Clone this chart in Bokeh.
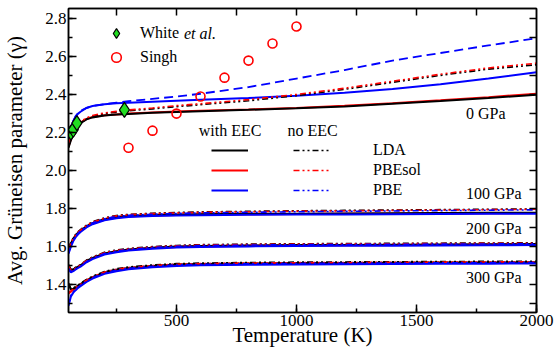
import numpy as np
from bokeh.plotting import figure
from bokeh.models import (Range1d, LinearAxis, SingleIntervalTicker, FixedTicker, Legend, LegendItem,
                          Label, NumeralTickFormatter)
from bokeh.embed import file_html
from bokeh.resources import INLINE

# ---------------- data ----------------
t_K = [50, 60, 70, 80, 90, 100, 125, 150, 200, 250, 300, 400, 500, 600, 800, 1000, 1200, 1400, 1600, 1800, 2000]

# 0 GPa
lda_eec_0 = [2.120, 2.160, 2.190, 2.215, 2.235, 2.250, 2.270, 2.280, 2.290, 2.295, 2.298, 2.304, 2.309, 2.313, 2.320, 2.328, 2.338, 2.352, 2.366, 2.382, 2.400]
pbesol_eec_0 = [2.125, 2.165, 2.195, 2.220, 2.238, 2.252, 2.272, 2.282, 2.291, 2.296, 2.300, 2.306, 2.311, 2.315, 2.322, 2.330, 2.341, 2.355, 2.370, 2.387, 2.405]
pbe_eec_0 = [2.190, 2.230, 2.260, 2.285, 2.300, 2.310, 2.330, 2.340, 2.350, 2.355, 2.358, 2.363, 2.368, 2.373, 2.382, 2.394, 2.410, 2.430, 2.455, 2.485, 2.518]
lda_no_0 = [2.140, 2.180, 2.205, 2.225, 2.240, 2.252, 2.272, 2.285, 2.300, 2.308, 2.315, 2.325, 2.337, 2.347, 2.368, 2.395, 2.428, 2.465, 2.502, 2.535, 2.558]
pbesol_no_0 = [2.145, 2.185, 2.210, 2.230, 2.245, 2.257, 2.277, 2.290, 2.304, 2.312, 2.319, 2.330, 2.342, 2.352, 2.374, 2.401, 2.434, 2.471, 2.508, 2.541, 2.566]
pbe_no_0 = [2.190, 2.230, 2.262, 2.287, 2.303, 2.315, 2.330, 2.340, 2.350, 2.358, 2.366, 2.378, 2.390, 2.405, 2.440, 2.485, 2.530, 2.580, 2.620, 2.660, 2.698]

# 100 GPa
lda_eec_100 = [1.585, 1.615, 1.640, 1.658, 1.672, 1.682, 1.705, 1.722, 1.742, 1.753, 1.759, 1.764, 1.767, 1.769, 1.771, 1.772, 1.773, 1.774, 1.775, 1.776, 1.777]
pbesol_eec_100 = [1.580, 1.610, 1.636, 1.655, 1.669, 1.680, 1.703, 1.720, 1.740, 1.751, 1.757, 1.762, 1.765, 1.767, 1.769, 1.770, 1.771, 1.772, 1.773, 1.774, 1.775]
pbe_eec_100 = [1.560, 1.598, 1.627, 1.648, 1.663, 1.675, 1.699, 1.716, 1.737, 1.748, 1.754, 1.759, 1.762, 1.764, 1.766, 1.767, 1.768, 1.769, 1.770, 1.771, 1.772]
lda_no_100 = [1.590, 1.620, 1.645, 1.663, 1.677, 1.688, 1.711, 1.729, 1.750, 1.762, 1.768, 1.774, 1.778, 1.781, 1.784, 1.787, 1.789, 1.791, 1.793, 1.795, 1.797]
pbesol_no_100 = [1.585, 1.615, 1.641, 1.660, 1.674, 1.685, 1.709, 1.727, 1.748, 1.760, 1.766, 1.772, 1.776, 1.779, 1.782, 1.785, 1.787, 1.789, 1.791, 1.793, 1.795]
pbe_no_100 = [1.565, 1.603, 1.632, 1.653, 1.668, 1.681, 1.705, 1.723, 1.745, 1.757, 1.763, 1.769, 1.773, 1.776, 1.779, 1.782, 1.784, 1.786, 1.788, 1.790, 1.792]

# 200 GPa
lda_eec_200 = [1.500, 1.475, 1.478, 1.485, 1.492, 1.499, 1.522, 1.538, 1.562, 1.574, 1.582, 1.592, 1.598, 1.601, 1.604, 1.606, 1.607, 1.608, 1.609, 1.610, 1.611]
pbesol_eec_200 = [1.495, 1.470, 1.474, 1.482, 1.489, 1.496, 1.519, 1.536, 1.560, 1.572, 1.580, 1.590, 1.596, 1.599, 1.602, 1.604, 1.605, 1.606, 1.607, 1.608, 1.609]
pbe_eec_200 = [1.480, 1.462, 1.468, 1.477, 1.485, 1.492, 1.515, 1.532, 1.556, 1.568, 1.577, 1.587, 1.593, 1.596, 1.599, 1.601, 1.602, 1.603, 1.604, 1.605, 1.606]
lda_no_200 = [1.503, 1.478, 1.481, 1.489, 1.496, 1.503, 1.527, 1.543, 1.568, 1.580, 1.588, 1.598, 1.604, 1.608, 1.611, 1.613, 1.614, 1.615, 1.616, 1.617, 1.618]
pbesol_no_200 = [1.498, 1.473, 1.477, 1.486, 1.493, 1.500, 1.524, 1.541, 1.566, 1.578, 1.586, 1.596, 1.602, 1.606, 1.609, 1.611, 1.612, 1.613, 1.614, 1.615, 1.616]
pbe_no_200 = [1.483, 1.465, 1.471, 1.480, 1.488, 1.495, 1.519, 1.537, 1.561, 1.574, 1.583, 1.593, 1.599, 1.603, 1.606, 1.608, 1.609, 1.610, 1.611, 1.612, 1.613]

# 300 GPa
lda_eec_300 = [1.400, 1.372, 1.376, 1.383, 1.392, 1.400, 1.420, 1.437, 1.462, 1.476, 1.485, 1.496, 1.503, 1.506, 1.509, 1.511, 1.512, 1.513, 1.514, 1.514, 1.515]
pbesol_eec_300 = [1.350, 1.360, 1.370, 1.379, 1.388, 1.396, 1.417, 1.434, 1.459, 1.473, 1.482, 1.493, 1.500, 1.503, 1.506, 1.508, 1.509, 1.510, 1.511, 1.511, 1.512]
pbe_eec_300 = [1.285, 1.335, 1.355, 1.368, 1.380, 1.389, 1.411, 1.429, 1.454, 1.468, 1.478, 1.489, 1.496, 1.499, 1.502, 1.504, 1.505, 1.506, 1.507, 1.508, 1.509]
lda_no_300 = [1.405, 1.376, 1.380, 1.387, 1.396, 1.404, 1.424, 1.441, 1.467, 1.481, 1.490, 1.501, 1.508, 1.511, 1.514, 1.516, 1.517, 1.518, 1.519, 1.520, 1.521]
pbesol_no_300 = [1.355, 1.364, 1.374, 1.383, 1.392, 1.400, 1.421, 1.438, 1.464, 1.478, 1.487, 1.498, 1.505, 1.508, 1.511, 1.513, 1.514, 1.515, 1.516, 1.517, 1.518]
pbe_no_300 = [1.290, 1.340, 1.360, 1.372, 1.384, 1.393, 1.415, 1.433, 1.459, 1.473, 1.483, 1.494, 1.501, 1.504, 1.507, 1.509, 1.510, 1.511, 1.512, 1.513, 1.514]

# experiments
white_T = [60, 70, 85, 283]
white_g = [2.200, 2.215, 2.250, 2.320]
singh_T = [300, 400, 500, 600, 700, 800, 900, 1000]
singh_g = [2.12, 2.21, 2.30, 2.39, 2.49, 2.58, 2.67, 2.76]

pressure_labels = ["0 GPa", "100 GPa", "200 GPa", "300 GPa"]
functional_labels = ["LDA", "PBEsol", "PBE"]

# tick positions for the mirrored (unlabelled) top and right axes
top_ticks = [250, 500, 750, 1000, 1250, 1500, 1750]
right_ticks = [1.3, 1.4, 1.5, 1.6, 1.7, 1.8, 1.9, 2.0, 2.1, 2.2, 2.3, 2.4, 2.5, 2.6, 2.7, 2.8]

# ---------------- figure ----------------
FONT = "Liberation Serif"
BLACK, RED, BLUE = "#000000", "#ff0000", "#0000ff"
DASHDOT = "6 3 2 3 2 3"

p = figure(width=555, height=358, output_backend="svg", toolbar_location=None,
           x_range=Range1d(50, 2000), y_range=Range1d(1.25, 2.855),
           min_border_left=67, min_border_right=19, min_border_top=8, min_border_bottom=46)
p.xgrid.visible = False
p.ygrid.visible = False
p.outline_line_color = "black"
p.outline_line_width = 1.5
p.background_fill_color = "white"
p.border_fill_color = "white"

bottom_ax = p.below[0]
left_ax = p.left[0]
bottom_ax.ticker = SingleIntervalTicker(interval=500, num_minor_ticks=2)
left_ax.ticker = SingleIntervalTicker(interval=0.2, num_minor_ticks=2)
left_ax.formatter = NumeralTickFormatter(format="0.0")
top_ax = LinearAxis(ticker=FixedTicker(ticks=[], minor_ticks=top_ticks))
right_ax = LinearAxis(ticker=FixedTicker(ticks=[], minor_ticks=right_ticks))
p.add_layout(top_ax, "above")
p.add_layout(right_ax, "right")

for ax in (bottom_ax, left_ax, top_ax, right_ax):
    ax.major_tick_in = 8
    ax.major_tick_out = 0
    ax.minor_tick_in = 4
    ax.minor_tick_out = 0
    ax.axis_line_width = 1.5
    ax.major_tick_line_width = 1.5
    ax.minor_tick_line_width = 1.5
    ax.axis_line_color = "black"
    ax.major_tick_line_color = "black"
    ax.minor_tick_line_color = "black"
    ax.major_label_text_font = FONT
    ax.major_label_text_color = "black"
    ax.major_label_text_font_size = "17px"
    ax.major_label_standoff = 2
    ax.axis_label_text_font = FONT
    ax.axis_label_text_font_style = "normal"
    ax.axis_label_text_color = "black"
    ax.axis_label_text_font_size = "21px"
for ax in (top_ax, right_ax):
    ax.minor_tick_in = 7
    ax.major_label_standoff = 0

bottom_ax.axis_label = "Temperature (K)"
bottom_ax.axis_label_standoff = -6
left_ax.axis_label = "Avg. Grüneisen parameter (γ)"
left_ax.axis_label_standoff = 15

# curves (PBEsol drawn beneath LDA, as in the original)
sets = [
    (lda_eec_0, pbesol_eec_0, pbe_eec_0, lda_no_0, pbesol_no_0, pbe_no_0),
    (lda_eec_100, pbesol_eec_100, pbe_eec_100, lda_no_100, pbesol_no_100, pbe_no_100),
    (lda_eec_200, pbesol_eec_200, pbe_eec_200, lda_no_200, pbesol_no_200, pbe_no_200),
    (lda_eec_300, pbesol_eec_300, pbe_eec_300, lda_no_300, pbesol_no_300, pbe_no_300),
]
legend_eec = []
legend_no = []
for i, (le, se, be, ln, sn, bn) in enumerate(sets):
    r2 = p.line(t_K, se, line_color=RED, line_width=2)
    r1 = p.line(t_K, le, line_color=BLACK, line_width=2)
    r3 = p.line(t_K, be, line_color=BLUE, line_width=2)
    r4 = p.line(t_K, ln, line_color=BLACK, line_width=1.6, line_dash=DASHDOT)
    r5 = p.line(t_K, sn, line_color=RED, line_width=1.6, line_dash=DASHDOT)
    if i == 0:
        p.line(t_K, bn, line_color=BLUE, line_width=1.8, line_dash="9 5")
    else:
        r6 = p.line(t_K, bn, line_color=BLUE, line_width=1.6, line_dash=DASHDOT)
        if i == 1:
            legend_eec = [r1, r2, r3]
            legend_no = [r4, r5, r6]

r_white = p.scatter(white_T, white_g, marker="diamond", size=15,
                    fill_color="#22dd22", line_color="black", line_width=1.2)
r_singh = p.scatter(singh_T, singh_g, marker="circle", size=9, fill_color=None,
                    line_color=RED, line_width=1.6)

# legends
leg_kw = dict(background_fill_alpha=0, border_line_alpha=0, padding=0, margin=0, spacing=0,
              label_text_font=FONT, label_text_font_size="16px", label_text_color="black")
leg_a = Legend(items=[LegendItem(label="White", renderers=[r_white]),
                      LegendItem(label="Singh", renderers=[r_singh])],
               location=(36, 243), glyph_width=24, glyph_height=24,
               label_standoff=12, **leg_kw)
leg_b = Legend(items=[LegendItem(label=" ", renderers=[r]) for r in legend_eec],
               location=(143, 112), glyph_width=37, glyph_height=20,
               label_standoff=5, **leg_kw)
leg_c = Legend(items=[LegendItem(label=lab, renderers=[r]) for lab, r in zip(functional_labels, legend_no)],
               location=(225, 112), glyph_width=37, glyph_height=20,
               label_standoff=43, **leg_kw)
for lg in (leg_a, leg_b, leg_c):
    p.add_layout(lg)

def add_label(x, y, text, size="16px", align="left", style="normal"):
    p.add_layout(Label(x=x, y=y, text=text, text_font=FONT, text_font_size=size,
                       text_align=align, text_baseline="middle", text_font_style=style,
                       text_color="black"))

add_label(531, 2.722, "et al.", style="italic")
add_label(723, 2.211, "with EEC", align="center")
add_label(1067, 2.211, "no EEC", align="center")
for lab, yv in zip(pressure_labels, [2.300, 1.877, 1.692, 1.437]):
    add_label(1706, yv, lab)

open("out.html", "w").write(file_html(p, INLINE))
